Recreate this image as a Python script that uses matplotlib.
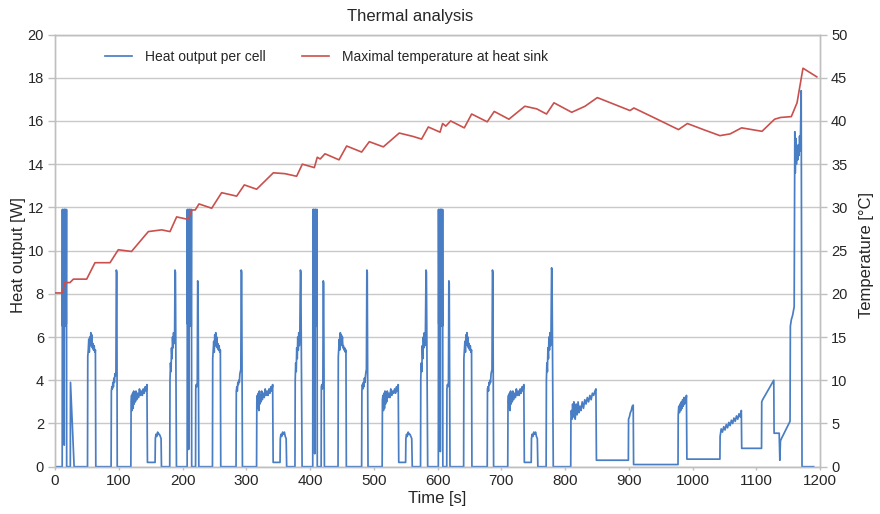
import matplotlib
matplotlib.use("Agg")
import matplotlib.pyplot as plt
from matplotlib import font_manager

# ---------------- data ----------------
# Urban cycle 1
c1_t = [0, 11.3, 11.6, 12.0, 12.4, 12.8, 13.2, 13.6, 14.0, 14.4, 14.8, 15.2, 15.6, 16.0, 16.4, 16.8, 17.2, 17.6, 18.0, 18.3,
        24.0, 24.3, 30.0,
        51.0, 51.4, 52.2, 53.0, 53.8, 54.6, 55.4, 56.2, 57.0, 57.8, 58.6, 59.4, 60.4, 61.4, 62.4, 63.4, 64.0,
        88.0, 88.4, 89.2, 90.0, 90.8, 91.6, 92.4, 93.2, 94.0, 94.8, 95.6, 96.2, 97.0, 97.6,
        119.0, 119.4, 120.2, 121.0, 121.8, 122.6, 123.4, 124.2, 125.0, 126.0, 127.0, 128.0, 129.5, 131.0, 132.5,
        134.0, 135.5, 137.0, 138.5, 140.0, 141.5, 143.0, 144.2, 145.0, 157.0,
        157.4, 158.4, 159.6, 161.0, 162.4, 163.8, 165.2, 166.4, 167.0,
        180.0, 180.4, 181.2, 182.0, 182.8, 183.6, 184.4, 185.2, 186.0, 186.8, 187.6, 188.3, 188.9, 190.5]
c1_w = [0, 0, 11.9, 6.5, 11.9, 6.6, 11.8, 6.5, 11.9, 1.0, 11.9, 6.5, 11.9, 6.6, 11.9, 6.5, 11.8, 6.6, 11.9, 0,
        0, 3.9, 0,
        0, 5.1, 5.4, 5.9, 5.3, 6.0, 5.6, 6.2, 5.7, 6.1, 5.5, 5.7, 5.4, 5.6, 5.3, 5.4, 0,
        0, 3.5, 3.7, 3.6, 3.9, 3.7, 4.1, 3.9, 4.3, 4.2, 4.4, 9.1, 9.0, 0,
        0, 3.0, 3.3, 2.6, 3.4, 2.7, 3.5, 2.9, 3.4, 3.0, 3.5, 3.1, 3.4, 3.2, 3.6,
        3.3, 3.5, 3.3, 3.6, 3.4, 3.7, 3.5, 3.8, 0.2, 0.2,
        1.3, 1.5, 1.4, 1.6, 1.5, 1.5, 1.4, 1.3, 0,
        0, 4.0, 4.8, 4.4, 5.5, 5.0, 6.0, 5.5, 6.2, 5.7, 6.0, 9.1, 9.0, 0]

# Urban cycle 2
c2_t = [207.3, 207.6, 208.0, 208.4, 208.8, 209.2, 209.6, 210.0, 210.4, 210.8, 211.2, 211.6, 212.0, 212.4, 212.8, 213.2, 213.6, 214.0, 214.4,
        220.5, 220.8, 221.6, 222.4, 223.2, 223.8, 224.4, 225.6,
        247.0, 247.4, 248.2, 249.0, 249.8, 250.6, 251.4, 252.2, 253.0, 253.8, 254.6, 255.4, 256.4, 257.4, 258.4, 259.4, 260.0,
        284.0, 284.4, 285.2, 286.0, 286.8, 287.6, 288.4, 289.2, 290.0, 290.8, 291.5, 292.2, 292.8, 294.0,
        316.2, 316.6, 317.4, 318.2, 319.0, 319.8, 320.6, 321.4, 322.2, 323.2, 324.2, 325.2, 326.7, 328.2, 329.7,
        331.2, 332.7, 334.2, 335.7, 337.2, 338.7, 340.2, 341.4, 342.2, 353.0,
        353.4, 354.4, 355.6, 357.0, 358.4, 359.8, 361.2, 362.6, 363.4,
        376.4, 376.8, 377.6, 378.4, 379.2, 380.0, 380.8, 381.6, 382.4, 383.2, 384.0, 385.0, 385.6, 387.6]
c2_w = [0, 11.9, 6.6, 11.9, 6.5, 11.8, 0.8, 11.9, 6.5, 11.9, 6.6, 11.9, 6.5, 11.8, 6.6, 11.9, 6.5, 11.9, 0,
        0, 3.6, 3.8, 3.7, 3.9, 8.6, 8.5, 0,
        0, 5.0, 5.4, 5.8, 5.3, 6.1, 5.6, 6.2, 5.6, 6.0, 5.5, 5.7, 5.4, 5.6, 5.3, 5.4, 0,
        0, 3.5, 3.7, 3.5, 3.9, 3.8, 4.0, 3.9, 4.3, 4.4, 4.5, 9.1, 9.0, 0,
        0, 3.0, 3.3, 2.7, 3.4, 2.6, 3.5, 2.9, 3.3, 3.0, 3.5, 3.1, 3.4, 3.2, 3.6,
        3.3, 3.5, 3.3, 3.6, 3.4, 3.7, 3.5, 3.8, 0.2, 0.2,
        1.3, 1.5, 1.4, 1.6, 1.5, 1.6, 1.4, 1.3, 0,
        0, 4.0, 4.8, 4.4, 5.5, 5.0, 6.0, 5.4, 6.2, 5.6, 6.0, 9.1, 9.0, 0]

# Urban cycle 3
c3_t = [404.3, 404.6, 405.0, 405.4, 405.8, 406.2, 406.6, 407.0, 407.4, 407.8, 408.2, 408.6, 409.0, 409.4, 409.8, 410.2, 410.6, 411.0, 411.4,
        417.5, 417.8, 418.6, 419.4, 420.2, 420.8, 421.4, 422.6,
        444.0, 444.4, 445.2, 446.0, 446.8, 447.6, 448.4, 449.2, 450.0, 450.8, 451.6, 452.4, 453.4, 454.4, 455.4, 456.4, 457.0,
        481.0, 481.4, 482.2, 483.0, 483.8, 484.6, 485.4, 486.2, 487.0, 487.8, 488.5, 489.2, 489.8, 491.0,
        513.2, 513.6, 514.4, 515.2, 516.0, 516.8, 517.6, 518.4, 519.2, 520.2, 521.2, 522.2, 523.7, 525.2, 526.7,
        528.2, 529.7, 531.2, 532.7, 534.2, 535.7, 537.2, 538.4, 539.2, 550.0,
        550.4, 551.4, 552.6, 554.0, 555.4, 556.8, 558.2, 559.6, 560.4,
        573.4, 573.8, 574.6, 575.4, 576.2, 577.0, 577.8, 578.6, 579.4, 580.2, 581.0, 582.0, 582.6, 584.6]
c3_w = [0, 11.9, 6.5, 11.9, 6.6, 11.9, 6.5, 11.8, 0.6, 11.9, 6.5, 11.9, 6.6, 11.9, 6.5, 11.8, 6.6, 11.9, 0,
        0, 3.7, 3.8, 3.6, 3.9, 8.6, 8.5, 0,
        0, 5.1, 5.5, 5.9, 5.4, 6.2, 5.6, 6.1, 5.7, 6.0, 5.5, 5.6, 5.4, 5.5, 5.3, 5.4, 0,
        0, 3.5, 3.8, 3.6, 3.9, 3.7, 4.1, 3.9, 4.2, 4.4, 4.5, 9.1, 9.0, 0,
        0, 3.1, 3.3, 2.6, 3.4, 2.7, 3.5, 2.9, 3.4, 3.0, 3.5, 3.2, 3.4, 3.2, 3.6,
        3.3, 3.5, 3.4, 3.6, 3.4, 3.7, 3.5, 3.8, 0.2, 0.2,
        1.3, 1.5, 1.4, 1.6, 1.5, 1.5, 1.4, 1.3, 0,
        0, 4.1, 4.8, 4.4, 5.6, 5.0, 6.0, 5.5, 6.2, 5.6, 6.0, 9.1, 9.0, 0]

# Urban cycle 4
c4_t = [601.3, 601.6, 602.0, 602.4, 602.8, 603.2, 603.6, 604.0, 604.4, 604.8, 605.2, 605.6, 606.0, 606.4, 606.8, 607.2, 607.6, 608.0, 608.4,
        614.5, 614.8, 615.6, 616.4, 617.2, 617.8, 618.4, 619.6,
        641.0, 641.4, 642.2, 643.0, 643.8, 644.6, 645.4, 646.2, 647.0, 647.8, 648.6, 649.4, 650.4, 651.4, 652.4, 653.4, 654.0,
        678.0, 678.4, 679.2, 680.0, 680.8, 681.6, 682.4, 683.2, 684.0, 684.8, 685.5, 686.2, 686.8, 688.0,
        710.2, 710.6, 711.4, 712.2, 713.0, 713.8, 714.6, 715.4, 716.2, 717.2, 718.2, 719.2, 720.7, 722.2, 723.7,
        725.2, 726.7, 728.2, 729.7, 731.2, 732.7, 734.2, 735.4, 736.2, 747.0,
        747.4, 748.4, 749.6, 751.0, 752.4, 753.8, 755.2, 756.6, 757.4,
        770.4, 770.8, 771.6, 772.4, 773.2, 774.0, 774.8, 775.6, 776.4, 777.2, 778.0, 779.0, 779.6, 781.6]
c4_w = [0, 11.9, 6.6, 11.9, 6.5, 11.8, 6.5, 11.9, 0.7, 11.9, 6.6, 11.9, 6.5, 11.9, 6.6, 11.8, 6.5, 11.9, 0,
        0, 3.6, 3.8, 3.7, 3.9, 8.6, 8.5, 0,
        0, 5.0, 5.4, 5.8, 5.3, 6.1, 5.7, 6.2, 5.6, 6.0, 5.5, 5.7, 5.4, 5.6, 5.3, 5.4, 0,
        0, 3.6, 3.7, 3.5, 3.9, 3.8, 4.0, 3.9, 4.3, 4.4, 4.5, 9.1, 9.0, 0,
        0, 3.0, 3.3, 2.7, 3.4, 2.6, 3.5, 2.9, 3.3, 3.0, 3.5, 3.1, 3.4, 3.2, 3.6,
        3.3, 3.5, 3.3, 3.6, 3.4, 3.7, 3.5, 3.8, 0.2, 0.2,
        1.3, 1.5, 1.4, 1.6, 1.5, 1.6, 1.4, 1.3, 0,
        0, 4.0, 4.8, 4.4, 5.5, 5.0, 6.0, 5.4, 6.2, 5.6, 6.0, 9.2, 9.0, 0]

# Extra-urban part
eu_t = [809.0, 809.3, 810.0, 811.0, 812.0, 813.0, 814.0, 815.0, 816.0, 817.5, 819.0, 820.5, 822.0, 823.5, 825.0,
        827.0, 829.0, 831.0, 833.0, 835.0, 837.0, 839.0, 841.0, 843.0, 845.0, 847.0, 848.5, 849.3, 899.4,
        899.7, 901.0, 902.5, 904.0, 905.5, 907.0, 907.6, 977.3,
        977.6, 978.5, 979.5, 980.5, 981.5, 982.5, 983.5, 984.5, 985.5, 986.5, 987.5, 988.5, 989.5, 990.5, 991.2, 1043.0,
        1043.3, 1045.0, 1047.0, 1049.0, 1051.0, 1053.0, 1055.0, 1057.0, 1059.0, 1061.0, 1063.0, 1065.0, 1067.0,
        1069.0, 1071.0, 1073.0, 1075.0, 1076.6, 1077.2, 1108.3,
        1108.6, 1110.0, 1127.5, 1128.0, 1136.0, 1137.0, 1138.0, 1139.5, 1153.0, 1153.5, 1155.0, 1157.0, 1159.5,
        1160.5, 1161.2, 1162.0, 1163.0, 1164.0, 1165.0, 1166.0, 1167.0, 1168.0, 1169.0, 1170.5, 1171.8, 1190.0]
eu_w = [0, 2.2, 2.6, 2.2, 2.9, 2.3, 3.0, 2.4, 2.2, 2.9, 2.4, 3.0, 2.5, 2.8, 2.6,
        3.0, 2.7, 3.1, 2.9, 3.2, 3.0, 3.3, 3.1, 3.4, 3.3, 3.5, 3.6, 0.3, 0.3,
        2.2, 2.3, 2.5, 2.6, 2.8, 2.85, 0.1, 0.1,
        2.4, 2.8, 2.5, 2.9, 2.6, 3.0, 2.7, 3.1, 2.8, 3.2, 2.9, 3.2, 3.0, 3.3, 0.35, 0.35,
        1.4, 1.75, 1.6, 1.85, 1.7, 1.95, 1.8, 2.05, 1.9, 2.15, 2.0, 2.25, 2.1,
        2.35, 2.2, 2.45, 2.3, 2.6, 0.85, 0.85,
        3.0, 3.1, 4.0, 1.55, 1.55, 0.3, 1.2, 1.3, 2.1, 6.5, 6.8, 7.0, 7.4,
        15.5, 13.6, 15.2, 14.0, 14.8, 14.2, 14.9, 14.4, 15.3, 14.6, 17.4, 0, 0]

# Maximal temperature at heat sink
temp_t = [0, 11.5, 15.7, 23.5, 28.8, 49.7, 62.7, 86.3, 99.3, 120.0, 146.4, 167.3, 180.4, 190.8, 209.2, 214.4,
          220.0, 225.9, 245.8, 261.4, 285.0, 297.0, 316.3, 342.5, 360.8, 379.0, 388.0, 406.8, 411.4, 416.0,
          423.5, 445.5, 457.5, 481.0, 493.0, 515.0, 540.0, 562.0, 575.0, 585.6, 604.0, 608.0, 613.0, 620.6,
          642.0, 653.6, 678.0, 689.0, 712.0, 737.0, 755.5, 771.0, 782.7, 810.5, 831.4, 850.7, 902.0, 908.0,
          939.0, 978.0, 992.0, 1017.0, 1043.0, 1059.0, 1077.0, 1109.0, 1128.8, 1138.0, 1155.0, 1164.0, 1173.3, 1195.0]
temp_c = [20.1, 20.1, 21.3, 21.3, 21.7, 21.7, 23.6, 23.6, 25.1, 24.9, 27.2, 27.4, 27.2, 28.9, 28.6, 29.7,
          29.7, 30.4, 29.9, 31.7, 31.3, 32.6, 32.1, 34.0, 33.9, 33.6, 35.0, 34.6, 35.8, 35.6,
          36.2, 35.5, 37.1, 36.4, 37.6, 37.0, 38.6, 38.2, 37.9, 39.3, 38.7, 39.7, 39.4, 40.0,
          39.2, 40.8, 39.9, 41.1, 40.2, 41.7, 41.4, 40.8, 42.1, 41.0, 41.7, 42.7, 41.2, 41.5,
          40.4, 39.0, 39.7, 39.0, 38.3, 38.5, 39.2, 38.8, 40.2, 40.4, 40.5, 42.1, 46.1, 45.1]

x_ticks = [0, 100, 200, 300, 400, 500, 600, 700, 800, 900, 1000, 1100, 1200]
y_left_ticks = [0, 2, 4, 6, 8, 10, 12, 14, 16, 18, 20]
y_right_ticks = [0, 5, 10, 15, 20, 25, 30, 35, 40, 45, 50]

heat_t = c1_t + c2_t + c3_t + c4_t + eu_t
heat_w = c1_w + c2_w + c3_w + c4_w + eu_w

# ---------------- figure ----------------
plt.rcParams['font.family'] = ['Liberation Sans', 'DejaVu Sans']
installed = {f.name for f in font_manager.fontManager.ttflist}
tick_family = 'Liberation Sans Narrow' if 'Liberation Sans Narrow' in installed else 'Liberation Sans'

W, H = 880, 514
fig = plt.figure(figsize=(W / 100, H / 100), dpi=100)
fig.patch.set_facecolor('white')

x0, x1 = 55, 820
y_top, y_bot = 34.5, 466.7
ax = fig.add_axes([x0 / W, 1 - y_bot / H, (x1 - x0) / W, (y_bot - y_top) / H])

blue = '#4a7ec4'
red = '#c9504d'
grid_c = '#c9c9c9'
spine_c = '#bfbfbf'

l1, = ax.plot(heat_t, heat_w, color=blue, lw=1.25, label='Heat output per cell', zorder=3)
ax.set_xlim(0, 1200)
ax.set_ylim(0, 20)
ax.set_xticks(x_ticks)
ax.set_yticks(y_left_ticks)
ax.grid(axis='y', color=grid_c, lw=1.0)
ax.set_axisbelow(True)

ax2 = ax.twinx()
l2, = ax2.plot(temp_t, temp_c, color=red, lw=1.2, label='Maximal temperature at heat sink', zorder=3)
ax2.set_ylim(0, 50)
ax2.set_yticks(y_right_ticks)

for a in (ax, ax2):
    for s in a.spines.values():
        s.set_color(spine_c)
        s.set_linewidth(1.0)
    a.tick_params(colors='#262626', labelsize=10.5, length=5, width=1.0)
    a.tick_params(axis='both', color=spine_c)
ax.tick_params(axis='x', length=2, pad=3, labelsize=11)
ax.tick_params(axis='y', pad=3)
ax2.tick_params(axis='y', pad=3)
for lab in ax.get_xticklabels() + ax.get_yticklabels() + ax2.get_yticklabels():
    lab.set_fontfamily([tick_family, 'DejaVu Sans'])

fig.text(410 / W, 1 - 17 / H, 'Thermal analysis', ha='center', va='center', fontsize=12, color='#262626')
fig.text(18 / W, 1 - 255 / H, 'Heat output [W]', ha='center', va='center', rotation=90, fontsize=12, color='#262626')
fig.text(866 / W, 1 - 255 / H, 'Temperature [°C]', ha='center', va='center', rotation=90, fontsize=12, color='#262626')
fig.text(437 / W, 1 - 499 / H, 'Time [s]', ha='center', va='center', fontsize=12, color='#262626')

fig.legend(handles=[l1, l2], loc='center left', bbox_to_anchor=(92 / W, 1 - 57 / H), ncol=2,
           frameon=False, fontsize=10, handlelength=2.0, columnspacing=2.6, handletextpad=0.9,
           labelcolor='#262626')

fig.savefig('out.png', dpi=100, facecolor='white')
